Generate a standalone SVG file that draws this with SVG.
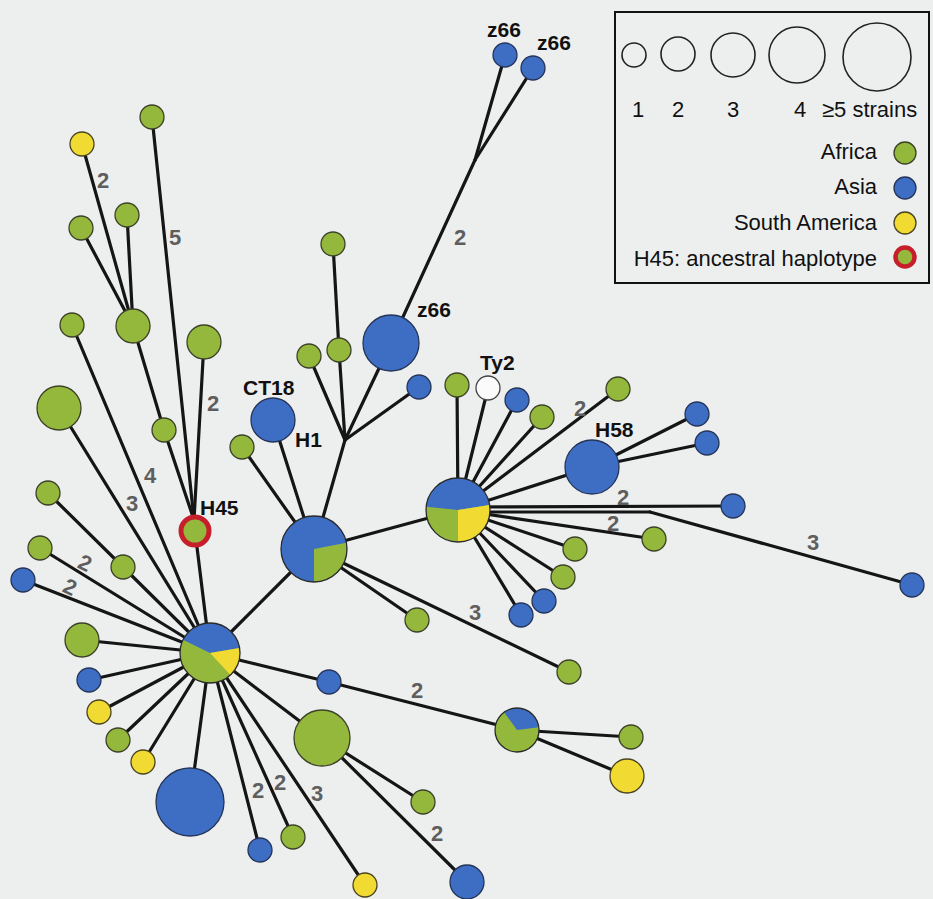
<svg xmlns="http://www.w3.org/2000/svg" width="933" height="899" viewBox="0 0 933 899">
<style>
.ln{stroke:#151515;stroke-width:3.2;fill:none;stroke-linecap:round}
.g{fill:#93b83c;stroke:#3c4228;stroke-width:1.3}
.b{fill:#3d6ec4;stroke:#253458;stroke-width:1.3}
.y{fill:#f1da32;stroke:#4a4420;stroke-width:1.3}
.w{fill:#fbfbfb;stroke:#444;stroke-width:1.3}
.gf{fill:#93b83c}.bf{fill:#3d6ec4}.yf{fill:#f1da32}
.ol{fill:none;stroke:#2a2a2a;stroke-width:1.3}
.o{fill:none;stroke:#222;stroke-width:1.6}
.num{font-family:"Liberation Sans",Arial,sans-serif;font-size:22px;font-weight:bold;fill:#5e5e5e;text-anchor:middle}
.lab{font-family:"Liberation Sans",Arial,sans-serif;font-size:21px;font-weight:bold;fill:#111}
.leg{font-family:"Liberation Sans",Arial,sans-serif;font-size:22px;fill:#111}
</style>
<rect width="933" height="899" fill="#edefef"/>
<g id="connectors">
<line class="ln" x1="210" y1="653" x2="59" y2="408"/>
<line class="ln" x1="210" y1="653" x2="72" y2="325"/>
<line class="ln" x1="82" y1="144" x2="133" y2="326"/>
<line class="ln" x1="81" y1="228" x2="133" y2="326"/>
<line class="ln" x1="127" y1="215" x2="133" y2="326"/>
<line class="ln" x1="133" y1="326" x2="164" y2="430"/>
<line class="ln" x1="164" y1="430" x2="194" y2="520"/>
<line class="ln" x1="152" y1="117" x2="194" y2="520"/>
<line class="ln" x1="204" y1="342" x2="194" y2="520"/>
<line class="ln" x1="195" y1="531" x2="210" y2="653"/>
<line class="ln" x1="48" y1="493" x2="123" y2="567"/>
<line class="ln" x1="123" y1="567" x2="210" y2="653"/>
<line class="ln" x1="40" y1="548" x2="210" y2="653"/>
<line class="ln" x1="23" y1="580" x2="210" y2="653"/>
<line class="ln" x1="82" y1="640" x2="210" y2="653"/>
<line class="ln" x1="89" y1="680" x2="210" y2="653"/>
<line class="ln" x1="99" y1="712" x2="210" y2="653"/>
<line class="ln" x1="118" y1="740" x2="210" y2="653"/>
<line class="ln" x1="143" y1="762" x2="210" y2="653"/>
<line class="ln" x1="190" y1="802" x2="210" y2="653"/>
<line class="ln" x1="260" y1="850" x2="210" y2="653"/>
<line class="ln" x1="293" y1="837" x2="210" y2="653"/>
<line class="ln" x1="365" y1="885" x2="210" y2="653"/>
<line class="ln" x1="322" y1="738" x2="210" y2="653"/>
<line class="ln" x1="322" y1="738" x2="423" y2="802"/>
<line class="ln" x1="322" y1="738" x2="467" y2="882"/>
<line class="ln" x1="210" y1="653" x2="329" y2="682"/>
<line class="ln" x1="329" y1="682" x2="517" y2="730"/>
<line class="ln" x1="517" y1="730" x2="631" y2="737"/>
<line class="ln" x1="517" y1="730" x2="627" y2="776"/>
<line class="ln" x1="210" y1="653" x2="314" y2="549"/>
<line class="ln" x1="314" y1="549" x2="273" y2="420"/>
<line class="ln" x1="314" y1="549" x2="242" y2="447"/>
<line class="ln" x1="314" y1="549" x2="345" y2="440"/>
<line class="ln" x1="345" y1="440" x2="309" y2="356"/>
<line class="ln" x1="345" y1="440" x2="339" y2="350"/>
<line class="ln" x1="339" y1="350" x2="333" y2="244"/>
<line class="ln" x1="345" y1="440" x2="391" y2="343"/>
<line class="ln" x1="345" y1="440" x2="419" y2="387"/>
<line class="ln" x1="391" y1="343" x2="475" y2="160"/>
<line class="ln" x1="475" y1="160" x2="505" y2="55"/>
<line class="ln" x1="475" y1="160" x2="533" y2="68"/>
<line class="ln" x1="314" y1="549" x2="417" y2="620"/>
<line class="ln" x1="314" y1="549" x2="569" y2="672"/>
<line class="ln" x1="314" y1="549" x2="458" y2="510"/>
<line class="ln" x1="458" y1="510" x2="457" y2="385"/>
<line class="ln" x1="458" y1="510" x2="488" y2="388"/>
<line class="ln" x1="458" y1="510" x2="517" y2="400"/>
<line class="ln" x1="458" y1="510" x2="542" y2="417"/>
<line class="ln" x1="458" y1="510" x2="618" y2="389"/>
<line class="ln" x1="458" y1="510" x2="592" y2="467"/>
<line class="ln" x1="592" y1="467" x2="697" y2="414"/>
<line class="ln" x1="592" y1="467" x2="707" y2="443"/>
<line class="ln" x1="458" y1="507" x2="733" y2="506"/>
<line class="ln" x1="458" y1="512" x2="650" y2="512"/>
<line class="ln" x1="650" y1="512" x2="912" y2="585"/>
<line class="ln" x1="458" y1="510" x2="654" y2="539"/>
<line class="ln" x1="458" y1="510" x2="575" y2="549"/>
<line class="ln" x1="458" y1="510" x2="563" y2="577"/>
<line class="ln" x1="458" y1="510" x2="544" y2="601"/>
<line class="ln" x1="458" y1="510" x2="521" y2="615"/>
</g>
<g id="edge-labels">
<text class="num" x="103" y="188">2</text>
<text class="num" x="175" y="245">5</text>
<text class="num" x="213" y="411">2</text>
<text class="num" x="150" y="483">4</text>
<text class="num" x="132" y="511">3</text>
<text class="num" transform="translate(85,563) rotate(25)" y="7.5">2</text>
<text class="num" transform="translate(70,587) rotate(25)" y="7.5">2</text>
<text class="num" x="258" y="798">2</text>
<text class="num" x="280" y="790">2</text>
<text class="num" x="317" y="801">3</text>
<text class="num" x="417" y="698">2</text>
<text class="num" x="437" y="841">2</text>
<text class="num" x="475" y="620">3</text>
<text class="num" x="460" y="245">2</text>
<text class="num" x="580" y="416">2</text>
<text class="num" x="623" y="505">2</text>
<text class="num" x="613" y="531">2</text>
<text class="num" x="813" y="550">3</text>
</g>
<g id="hubA"><circle class="gf" cx="210" cy="653" r="30"/><path class="bf" d="M210,653 L183.04,639.85 A30,30 0 0 1 239.59,648.05 Z"/><path class="yf" d="M210,653 L239.59,648.05 A30,30 0 0 1 230.46,674.94 Z"/><circle class="ol" cx="210" cy="653" r="30"/></g>
<g id="hubB"><circle class="bf" cx="314" cy="549" r="33"/><path class="gf" d="M314,549 L346.39,542.70 A33,33 0 0 1 314,582 Z"/><circle class="ol" cx="314" cy="549" r="33"/></g>
<g id="hubC"><circle class="gf" cx="458" cy="510" r="32"/><path class="bf" d="M458,510 L426.18,506.66 A32,32 0 0 1 489.61,504.99 Z"/><path class="yf" d="M458,510 L489.61,504.99 A32,32 0 0 1 458,542 Z"/><circle class="ol" cx="458" cy="510" r="32"/></g>
<g id="hubD"><circle class="gf" cx="517" cy="730" r="22"/><path class="bf" d="M517,730 L504.07,712.20 A22,22 0 0 1 538.84,727.32 Z"/><circle class="ol" cx="517" cy="730" r="22"/></g>
<g id="H45"><circle cx="195" cy="531" r="14" fill="#93b83c" stroke="#c61f2b" stroke-width="5"/><text class="lab" x="200" y="515">H45</text></g>
<g id="n1"><circle class="g" cx="152" cy="117" r="12"/></g>
<g id="n2"><circle class="y" cx="82" cy="144" r="12"/></g>
<g id="n3"><circle class="g" cx="81" cy="228" r="12"/></g>
<g id="n4"><circle class="g" cx="127" cy="215" r="12"/></g>
<g id="n5"><circle class="g" cx="133" cy="326" r="17"/></g>
<g id="n6"><circle class="g" cx="72" cy="325" r="12"/></g>
<g id="n7"><circle class="g" cx="204" cy="342" r="17"/></g>
<g id="n8"><circle class="g" cx="59" cy="408" r="22"/></g>
<g id="n9"><circle class="g" cx="164" cy="430" r="12"/></g>
<g id="n11"><circle class="g" cx="48" cy="493" r="12"/></g>
<g id="n12"><circle class="g" cx="123" cy="567" r="12"/></g>
<g id="n13"><circle class="g" cx="40" cy="548" r="12"/></g>
<g id="n14"><circle class="b" cx="23" cy="580" r="12"/></g>
<g id="n15"><circle class="g" cx="82" cy="640" r="17"/></g>
<g id="n16"><circle class="b" cx="89" cy="680" r="12"/></g>
<g id="n17"><circle class="y" cx="99" cy="712" r="12"/></g>
<g id="n18"><circle class="g" cx="118" cy="740" r="12"/></g>
<g id="n19"><circle class="y" cx="143" cy="762" r="12"/></g>
<g id="n20"><circle class="b" cx="190" cy="802" r="34"/></g>
<g id="n21"><circle class="b" cx="260" cy="850" r="12"/></g>
<g id="n22"><circle class="g" cx="293" cy="837" r="12"/></g>
<g id="n23"><circle class="y" cx="365" cy="885" r="12"/></g>
<g id="n24"><circle class="g" cx="322" cy="738" r="28"/></g>
<g id="n25"><circle class="g" cx="423" cy="802" r="12"/></g>
<g id="n26"><circle class="b" cx="467" cy="882" r="17"/></g>
<g id="n27"><circle class="b" cx="329" cy="682" r="12"/></g>
<g id="n28"><circle class="g" cx="631" cy="737" r="12"/></g>
<g id="n29"><circle class="y" cx="627" cy="776" r="17"/></g>
<g id="CT18"><circle class="b" cx="273" cy="420" r="22"/><text class="lab" x="243" y="395">CT18</text><text class="lab" x="295" y="447">H1</text></g>
<g id="n31"><circle class="g" cx="242" cy="447" r="12"/></g>
<g id="n32"><circle class="g" cx="309" cy="356" r="12"/></g>
<g id="n33"><circle class="g" cx="339" cy="350" r="12"/></g>
<g id="n34"><circle class="g" cx="333" cy="244" r="12"/></g>
<g id="z66a"><circle class="b" cx="391" cy="343" r="28"/><text class="lab" x="417" y="317">z66</text></g>
<g id="n36"><circle class="b" cx="419" cy="387" r="12"/></g>
<g id="z66b"><circle class="b" cx="505" cy="55" r="12"/><text class="lab" x="487" y="37">z66</text></g>
<g id="z66c"><circle class="b" cx="533" cy="68" r="12"/><text class="lab" x="537" y="50">z66</text></g>
<g id="n39"><circle class="g" cx="417" cy="620" r="12"/></g>
<g id="n40"><circle class="g" cx="569" cy="672" r="12"/></g>
<g id="n41"><circle class="g" cx="457" cy="385" r="12"/></g>
<g id="Ty2"><circle class="w" cx="488" cy="388" r="12"/><text class="lab" x="480" y="370">Ty2</text></g>
<g id="n43"><circle class="b" cx="517" cy="400" r="12"/></g>
<g id="n44"><circle class="g" cx="542" cy="417" r="12"/></g>
<g id="n45"><circle class="g" cx="618" cy="389" r="12"/></g>
<g id="H58"><circle class="b" cx="592" cy="467" r="27"/><text class="lab" x="595" y="437">H58</text></g>
<g id="n47"><circle class="b" cx="697" cy="414" r="12"/></g>
<g id="n48"><circle class="b" cx="707" cy="443" r="12"/></g>
<g id="n49"><circle class="b" cx="733" cy="506" r="12"/></g>
<g id="n50"><circle class="b" cx="912" cy="585" r="12"/></g>
<g id="n51"><circle class="g" cx="654" cy="539" r="12"/></g>
<g id="n52"><circle class="g" cx="575" cy="549" r="12"/></g>
<g id="n53"><circle class="g" cx="563" cy="577" r="12"/></g>
<g id="n54"><circle class="b" cx="544" cy="601" r="12"/></g>
<g id="n55"><circle class="b" cx="521" cy="615" r="12"/></g>
<g id="legend">
<rect x="615" y="12" width="314" height="271" fill="#edefef" stroke="#111" stroke-width="2"/>
<circle class="o" cx="634" cy="55" r="12"/>
<circle class="o" cx="678" cy="54" r="17"/>
<circle class="o" cx="733" cy="55" r="22"/>
<circle class="o" cx="797" cy="55" r="28"/>
<circle class="o" cx="877" cy="57" r="34"/>
<text class="leg" x="638" y="117" text-anchor="middle">1</text>
<text class="leg" x="678" y="117" text-anchor="middle">2</text>
<text class="leg" x="733" y="117" text-anchor="middle">3</text>
<text class="leg" x="800" y="117" text-anchor="middle">4</text>
<text class="leg" x="822" y="117">≥5 strains</text>
<text class="leg" x="877" y="159" text-anchor="end">Africa</text>
<text class="leg" x="877" y="194" text-anchor="end">Asia</text>
<text class="leg" x="877" y="230" text-anchor="end">South America</text>
<text class="leg" x="877" y="266" text-anchor="end">H45: ancestral haplotype</text>
<circle class="g" cx="905" cy="153" r="11"/>
<circle class="b" cx="905" cy="188" r="11"/>
<circle class="y" cx="905" cy="223" r="11"/>
<circle cx="905" cy="257" r="9.5" fill="#93b83c" stroke="#c61f2b" stroke-width="4.5"/>
</g>
</svg>
